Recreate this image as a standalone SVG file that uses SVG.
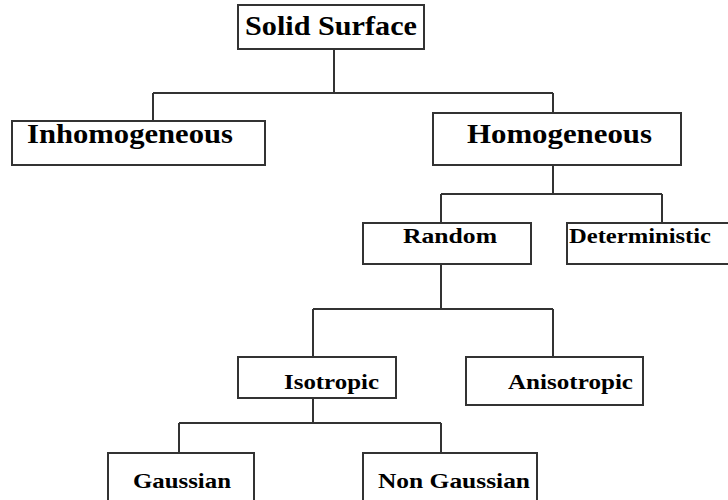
<svg xmlns="http://www.w3.org/2000/svg" width="728" height="500" viewBox="0 0 728 500">
<style>
.box{fill:#fff;stroke:#333;stroke-width:2}
.ln{fill:none;stroke:#333;stroke-width:2}
.t{font-family:"Liberation Serif","Times New Roman",serif;font-weight:bold;fill:#000}
.l{font-size:28px}
.s{font-size:21px}
</style>
<rect width="728" height="500" fill="#fff"/>
<g id="connectors">
<path class="ln" d="M334 49V93M153 93H553M153 93V121M553 93V113"/>
<path class="ln" d="M553 165V194M441 194H662M441 194V223M662 194V223"/>
<path class="ln" d="M441 264V309M313 309H553M313 309V357M553 309V357"/>
<path class="ln" d="M313 398V423M179 423H441M179 423V453M441 423V453"/>
</g>
<g id="solid-surface"><rect class="box" x="238" y="5" width="186" height="44"/><text class="t l" x="245" y="35" textLength="172" lengthAdjust="spacingAndGlyphs">Solid Surface</text></g>
<g id="inhomogeneous"><rect class="box" x="12" y="121" width="253" height="44"/><text class="t l" x="27" y="143" textLength="206" lengthAdjust="spacingAndGlyphs">Inhomogeneous</text></g>
<g id="homogeneous"><rect class="box" x="433" y="113" width="248" height="52"/><text class="t l" x="467" y="143" textLength="185" lengthAdjust="spacingAndGlyphs">Homogeneous</text></g>
<g id="random"><rect class="box" x="363" y="223" width="168" height="41"/><text class="t s" x="403" y="243" textLength="94" lengthAdjust="spacingAndGlyphs">Random</text></g>
<g id="deterministic"><rect class="box" x="567" y="223" width="170" height="41"/><text class="t s" x="569" y="243" textLength="142" lengthAdjust="spacingAndGlyphs">Deterministic</text></g>
<g id="isotropic"><rect class="box" x="238" y="357" width="158" height="41"/><text class="t s" x="284" y="389" textLength="95" lengthAdjust="spacingAndGlyphs">Isotropic</text></g>
<g id="anisotropic"><rect class="box" x="466" y="357" width="177" height="48"/><text class="t s" x="508" y="389" textLength="125" lengthAdjust="spacingAndGlyphs">Anisotropic</text></g>
<g id="gaussian"><rect class="box" x="108" y="453" width="146" height="60"/><text class="t s" x="133" y="488" textLength="98" lengthAdjust="spacingAndGlyphs">Gaussian</text></g>
<g id="non-gaussian"><rect class="box" x="363" y="453" width="174" height="60"/><text class="t s" x="378" y="488" textLength="152" lengthAdjust="spacingAndGlyphs">Non Gaussian</text></g>
</svg>
